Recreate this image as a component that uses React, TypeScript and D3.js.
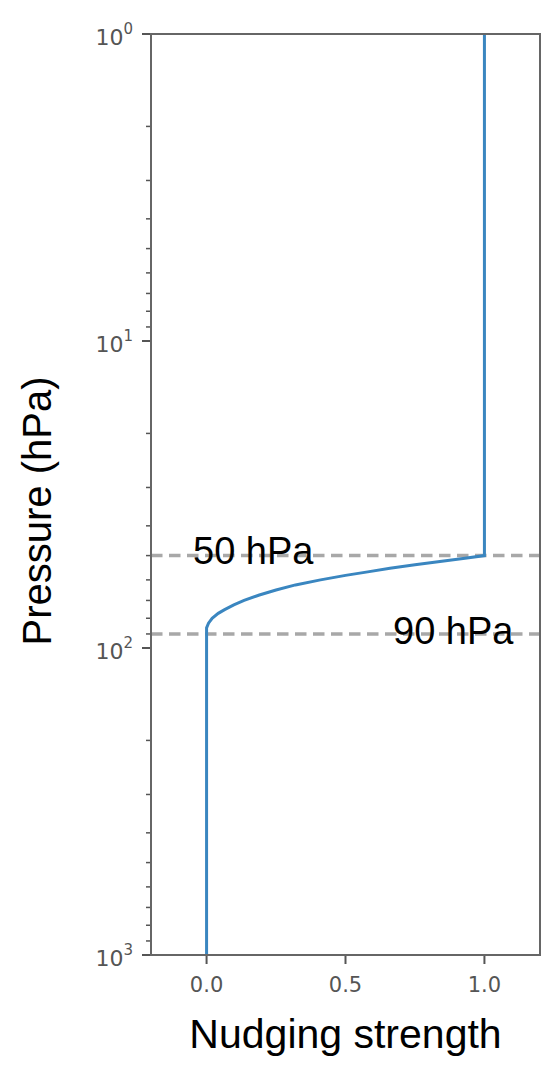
import React from "react";
import * as d3 from "d3";

const pressure = [1, 50, 51, 52.3, 53.6, 55, 56.5, 58, 60, 62.3, 64.7, 67.2, 70, 72.4, 75, 77.1, 80, 83, 86, 1000];
const strength = [1, 1, 0.93, 0.84, 0.75, 0.66, 0.58, 0.5, 0.41, 0.32, 0.25, 0.19, 0.135, 0.098, 0.065, 0.042, 0.02, 0.007, 0, 0];
const xTicks = [0, 0.5, 1.0];
const xTickLabels = ["0.0", "0.5", "1.0"];
const yMajor = [1, 10, 100, 1000];
const yExp = ["0", "1", "2", "3"];
const refLevels = [50, 90];
const refLabels = ["50 hPa", "90 hPa"];

export default function App() {
  const W = 549, H = 1070;
  const L = 151, R = 540, T = 34, B = 955;
  const x = d3.scaleLinear().domain([-0.2, 1.2]).range([L, R]);
  const y = d3.scaleLog().domain([1, 1000]).range([T, B]);
  const minor: number[] = [];
  for (const dec of [1, 10, 100]) for (let k = 2; k <= 9; k++) minor.push(dec * k);
  const pts = pressure.map((p, i) => [strength[i], p] as [number, number]);
  const line = d3.line<[number, number]>().x(d => x(d[0])).y(d => y(d[1]));
  const tickColor = "#555";
  const labelPos = [
    { x: 193, dy: 8 },
    { x: 393, dy: 10 },
  ];
  return (
    <svg width={W} height={H} style={{ position: "absolute", left: 0, top: 0, background: "#fff" }}>
      {/* minor y ticks */}
      {minor.map(v => (
        <line key={"m" + v} x1={L - 5} x2={L} y1={y(v)} y2={y(v)} stroke={tickColor} strokeWidth={1.5} />
      ))}
      {yMajor.map((v, i) => (
        <g key={"y" + v}>
          <line x1={L - 9} x2={L} y1={y(v)} y2={y(v)} stroke={tickColor} strokeWidth={2} />
          <text x={133} y={y(v) + 11} textAnchor="end" fontFamily="DejaVu Sans" fontSize={22} fill="#555">
            10<tspan dy={-11} fontSize={15}>{yExp[i]}</tspan>
          </text>
        </g>
      ))}
      {xTicks.map((v, i) => (
        <g key={"x" + v}>
          <line x1={x(v)} x2={x(v)} y1={B} y2={B + 9} stroke={tickColor} strokeWidth={2} />
          <text x={x(v)} y={992} textAnchor="middle" fontFamily="DejaVu Sans" fontSize={21} fill="#555">
            {xTickLabels[i]}
          </text>
        </g>
      ))}
      {refLevels.map(p => (
        <line key={"r" + p} x1={L} x2={R} y1={y(p)} y2={y(p)} stroke="#a8a8a8" strokeWidth={3.5} strokeDasharray="11.5 6.5" />
      ))}
      <path d={line(pts) || ""} fill="none" stroke="#3a86c0" strokeWidth={3} />
      <rect x={L} y={T} width={R - L} height={B - T} fill="none" stroke="#666" strokeWidth={2} />
      {refLevels.map((p, i) => (
        <text key={"t" + p} x={labelPos[i].x} y={y(p) + labelPos[i].dy} fontFamily="Liberation Sans" fontSize={38} fill="#000">
          {refLabels[i]}
        </text>
      ))}
      <text x={(L + R) / 2} y={1048} textAnchor="middle" fontFamily="Liberation Sans" fontSize={41} fill="#000">
        Nudging strength
      </text>
      <text transform={`translate(51, 511) rotate(-90)`} textAnchor="middle" fontFamily="Liberation Sans" fontSize={40} fill="#000">
        Pressure (hPa)
      </text>
    </svg>
  );
}
